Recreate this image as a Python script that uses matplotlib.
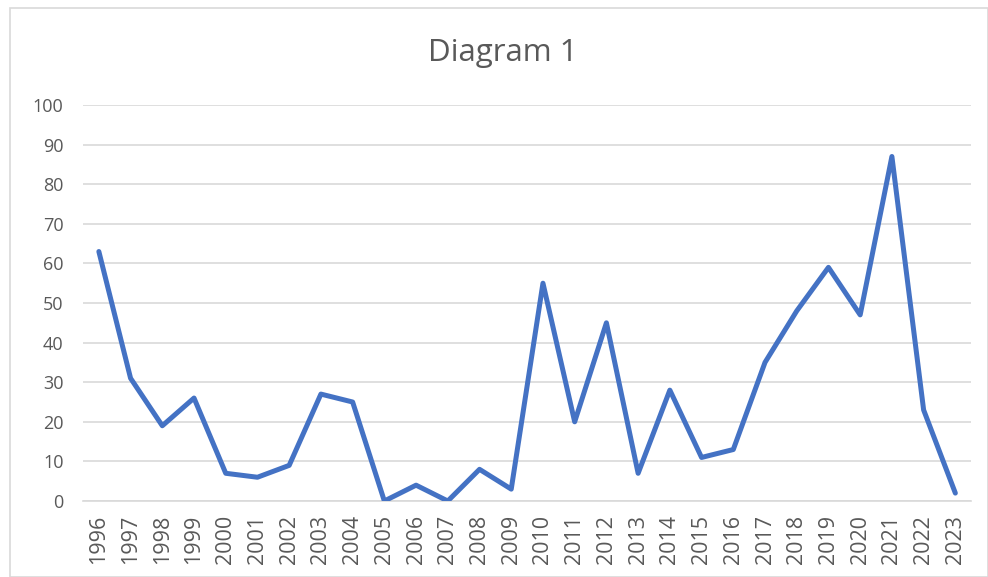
import matplotlib
matplotlib.use("Agg")
import matplotlib.pyplot as plt
from matplotlib.patches import Rectangle

years = [str(y) for y in range(1996, 2024)]
values = [63, 31, 19, 26, 7, 6, 9, 27, 25, 0, 4, 0, 8, 3, 55, 20,
          45, 7, 28, 11, 13, 35, 48, 59, 47, 87, 23, 2]
yticks = [0, 10, 20, 30, 40, 50, 60, 70, 80, 90, 100]

plt.rcParams["font.family"] = ["Open Sans", "DejaVu Sans"]

fig = plt.figure(figsize=(9.88, 5.77), dpi=100)
ax = fig.add_axes([0.084, 0.1317, 0.899, 0.6863])

# chart border like the spreadsheet chart frame
fig.patches.append(Rectangle((0.010, 0.0), 0.99, 0.986, transform=fig.transFigure,
                             fill=False, edgecolor="#D9D9D9", linewidth=1.2))

x = range(len(years))
ax.plot(x, values, color="#4472C4", linewidth=3.6,
        solid_joinstyle="round", solid_capstyle="round", zorder=3)

ax.set_xlim(-0.5, len(years) - 0.5)
ax.set_ylim(0, 100)
ax.set_yticks(yticks)
ax.set_xticks(list(x))
ax.set_xticklabels(years, rotation=90)
ax.tick_params(axis="both", length=0, colors="#595959")
ax.tick_params(axis="y", pad=14, labelsize=13)
ax.tick_params(axis="x", pad=10, labelsize=15.5)

ax.grid(axis="y", color="#D9D9D9", linewidth=1.2)
ax.set_axisbelow(True)
for s in ["top", "right", "left"]:
    ax.spines[s].set_visible(False)
ax.spines["bottom"].set_color("#D9D9D9")
ax.spines["bottom"].set_linewidth(1.2)

fig.text(0.509, 0.908, "Diagram 1", ha="center", va="center",
         fontsize=22.5, color="#595959")

fig.savefig("out.png", dpi=100)
